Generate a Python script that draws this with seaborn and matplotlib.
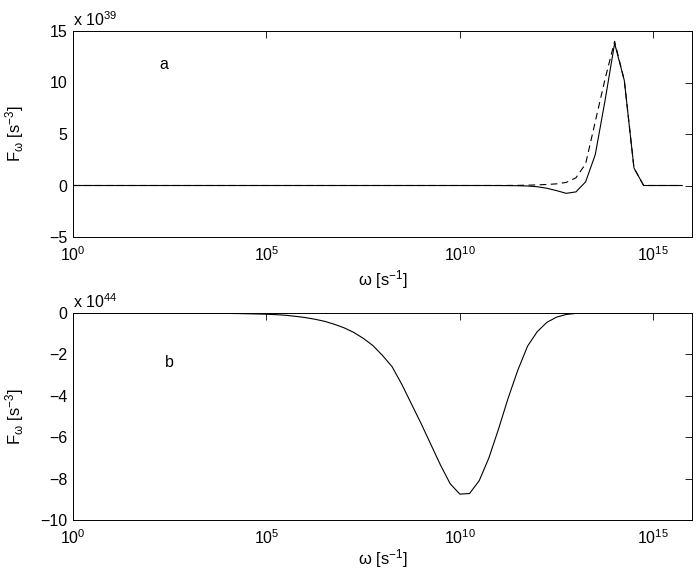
import numpy as np
import pandas as pd
import matplotlib
matplotlib.use("Agg")
import matplotlib.pyplot as plt
import seaborn as sns

# log10(omega) sampling grid (0.25-decade steps)
log_omega = [0.0, 0.25, 0.5, 0.75, 1.0, 1.25, 1.5, 1.75, 2.0, 2.25, 2.5, 2.75,
             3.0, 3.25, 3.5, 3.75, 4.0, 4.25, 4.5, 4.75, 5.0, 5.25, 5.5, 5.75,
             6.0, 6.25, 6.5, 6.75, 7.0, 7.25, 7.5, 7.75, 8.0, 8.25, 8.5, 8.75,
             9.0, 9.25, 9.5, 9.75, 10.0, 10.25, 10.5, 10.75, 11.0, 11.25, 11.5, 11.75,
             12.0, 12.25, 12.5, 12.75, 13.0, 13.25, 13.5, 13.75, 14.0, 14.25, 14.5, 14.75,
             15.0, 15.25, 15.5, 15.75]

# panel a, units of 1e39 s^-3
a_solid = [0] * 44 + [-0.005, -0.01, -0.02, -0.05, -0.12, -0.27, -0.5, -0.76,
                      -0.62, 0.35, 3.0, 8.2, 13.8, 10.2, 1.7, 0.0,
                      0.0, 0.0, 0.0, 0.0]
a_dashed = [0] * 44 + [0.003, 0.006, 0.012, 0.03, 0.06, 0.1, 0.16, 0.3,
                       0.75, 2.1, 6.2, 10.3, 14.0, 10.2, 1.7, 0.0,
                       0.0, 0.0, 0.0, 0.0]

# panel b, units of 1e44 s^-3
b_solid = [0, 0, 0, 0, 0, 0, -0.001, -0.001, -0.002, -0.002, -0.003, -0.004,
           -0.006, -0.008, -0.011, -0.015, -0.02, -0.027, -0.036, -0.047,
           -0.06, -0.08, -0.11, -0.16, -0.22, -0.3, -0.4, -0.54,
           -0.71, -0.93, -1.22, -1.57, -2.05, -2.6, -3.45, -4.4,
           -5.35, -6.35, -7.35, -8.25, -8.75, -8.72, -8.1, -7.0,
           -5.6, -4.1, -2.75, -1.6, -0.9, -0.45, -0.2, -0.07,
           -0.02, -0.005, 0, 0, 0, 0, 0, 0, 0, 0, 0, 0]

xticks = [1e0, 1e5, 1e10, 1e15]
xticklabels = ["$10^{0}$", "$10^{5}$", "$10^{10}$", "$10^{15}$"]
a_yticks = [-5, 0, 5, 10, 15]
b_yticks = [-10, -8, -6, -4, -2, 0]

sns.set_style("white")
plt.rcParams["font.family"] = ["Liberation Sans", "DejaVu Sans"]
plt.rcParams["mathtext.fontset"] = "custom"
plt.rcParams["mathtext.rm"] = "Liberation Sans"
plt.rcParams["mathtext.it"] = "Liberation Sans:italic"
plt.rcParams["text.color"] = "black"
plt.rcParams["axes.labelcolor"] = "black"
plt.rcParams["xtick.color"] = "black"
plt.rcParams["ytick.color"] = "black"

omega = [10 ** v for v in log_omega]
df = pd.DataFrame({"omega": omega, "a_solid": a_solid,
                   "a_dashed": a_dashed, "b_solid": b_solid})

fig = plt.figure(figsize=(6.99, 5.72), dpi=100)
ax1 = fig.add_axes([73 / 699, 1 - 237 / 572, (692 - 73) / 699, (237 - 31) / 572])
ax2 = fig.add_axes([73 / 699, 1 - 520 / 572, (692 - 73) / 699, (520 - 313) / 572])

sns.lineplot(data=df, x="omega", y="a_dashed", ax=ax1, color="black",
             linewidth=0.8, dashes=False, linestyle=(0, (6, 4)))
sns.lineplot(data=df, x="omega", y="a_solid", ax=ax1, color="black", linewidth=0.8)
sns.lineplot(data=df, x="omega", y="b_solid", ax=ax2, color="black", linewidth=0.8)

fs = 11.5
lfs = 12
for ax, yt, ylim, exp, lab, labpos, xlp in [
        (ax1, a_yticks, (-5, 15), "39", "a", (0.14, 0.835), 3),
        (ax2, b_yticks, (-10, 0), "44", "b", (0.148, 0.76), 0)]:
    ax.set_xscale("log")
    ax.set_xlim(1, 1e16)
    ax.set_ylim(*ylim)
    ax.set_xticks(xticks)
    ax.set_xticklabels(xticklabels, fontsize=fs)
    ax.xaxis.set_minor_locator(matplotlib.ticker.NullLocator())
    ax.set_yticks(yt)
    ax.set_yticklabels([str(v).replace("-", "\u2212") for v in yt], fontsize=fs)
    ax.tick_params(direction="in", length=5, width=0.6, top=True, right=True,
                   color="black", labelcolor="black")
    ax.tick_params(axis="x", pad=6)
    ax.tick_params(axis="y", pad=4)
    for s in ax.spines.values():
        s.set_color("black")
        s.set_linewidth(0.7)
    ax.set_xlabel(r"ω [s$^{-1}$]", fontsize=lfs, labelpad=xlp)
    ax.set_ylabel(r"F$_{\mathrm{ω}}$ [s$^{-3}$]", fontsize=lfs)
    ax.yaxis.set_label_coords(-0.076, 0.5)
    ax.text(0.0, 1.01, "x 10$^{" + exp + "}$", transform=ax.transAxes,
            fontsize=fs, ha="left", va="bottom")
    ax.text(labpos[0], labpos[1], lab, transform=ax.transAxes, fontsize=fs,
            ha="left", va="center")
    ax.grid(False)

fig.savefig("out.png", dpi=100)
